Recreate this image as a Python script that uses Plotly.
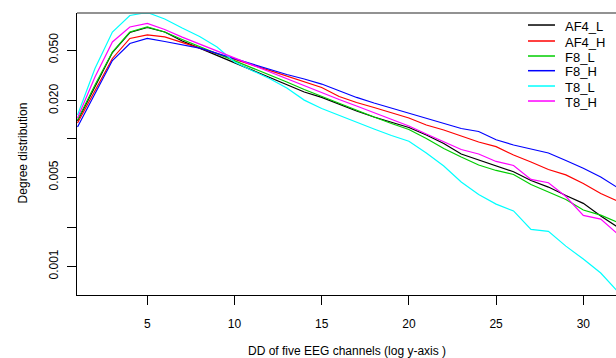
import plotly.graph_objects as go

degree = list(range(1, 33))

AF4_L = [0.01384, 0.0261, 0.0478, 0.0686, 0.0751, 0.0692, 0.0589, 0.0517, 0.0453, 0.0397,
         0.0348, 0.0305, 0.0267, 0.0234, 0.0212, 0.01866, 0.01659, 0.01488, 0.0136, 0.01231,
         0.01075, 0.00922, 0.00762, 0.00684, 0.00619, 0.00553, 0.00472, 0.00419, 0.0036, 0.00312,
         0.00248, 0.00202]
AF4_H = [0.01335, 0.02425, 0.0429, 0.0616, 0.0656, 0.0633, 0.0571, 0.0517, 0.0467, 0.0423,
         0.0382, 0.0346, 0.0312, 0.0283, 0.0254, 0.02156, 0.01935, 0.01767, 0.01614, 0.01462,
         0.01288, 0.01176, 0.01055, 0.00947, 0.0087, 0.00748, 0.0066, 0.00576, 0.00522, 0.00447,
         0.00373, 0.00323]
F8_L = [0.01409, 0.02655, 0.0482, 0.0692, 0.0758, 0.0692, 0.0605, 0.0533, 0.0467, 0.041,
        0.0361, 0.0318, 0.028, 0.0245, 0.02156, 0.019, 0.01673, 0.01488, 0.01323, 0.01187,
        0.01009, 0.00842, 0.00722, 0.00625, 0.00566, 0.00526, 0.00439, 0.00383, 0.00335, 0.00277,
        0.00252, 0.00221]
F8_H = [0.01242, 0.02277, 0.04135, 0.0562, 0.0616, 0.0583, 0.0547, 0.0517, 0.047, 0.0427,
        0.0388, 0.0353, 0.0321, 0.0296, 0.027, 0.0239, 0.0212, 0.01917, 0.01751, 0.016,
        0.01462, 0.01335, 0.01209, 0.01145, 0.00985, 0.00897, 0.00832, 0.00776, 0.00678, 0.00589,
        0.00503, 0.00412]
T8_L = [0.01543, 0.0358, 0.0692, 0.0933, 0.0985, 0.0876, 0.0744, 0.0638, 0.0528, 0.0402,
        0.0345, 0.0299, 0.0251, 0.0202, 0.01736, 0.01529, 0.01347, 0.01198, 0.01065, 0.00959,
        0.00776, 0.00613, 0.00459, 0.00366, 0.00308, 0.00272, 0.00195, 0.00188, 0.00144, 0.00114,
        0.000886, 0.000628]
T8_H = [0.01462, 0.0307, 0.0578, 0.0758, 0.0808, 0.0724, 0.0631, 0.0556, 0.0491, 0.0433,
        0.0381, 0.0336, 0.0296, 0.0261, 0.0232, 0.0204, 0.01816, 0.01614, 0.01435, 0.01264,
        0.01094, 0.0095, 0.00827, 0.00762, 0.00666, 0.00619, 0.00481, 0.00453, 0.00353, 0.00251,
        0.00235, 0.00178]

series_names = ["AF4_L", "AF4_H", "F8_L", "F8_H", "T8_L", "T8_H"]
series_values = [AF4_L, AF4_H, F8_L, F8_H, T8_L, T8_H]
series_colors = ["#000000", "#FF0000", "#00CD00", "#0000FF", "#00FFFF", "#FF00FF"]

x_ticks = [5, 10, 15, 20, 25, 30]
y_tickvals = [0.001, 0.002, 0.005, 0.01, 0.02, 0.05]
y_ticktext = ["0.001", "", "0.005", "", "0.020", "0.050"]

x_title = "DD of five EEG channels (log y-axis )"
y_title = "Degree distribution"

FONT = "Liberation Sans, Arial, sans-serif"

fig = go.Figure()
for name, vals, col in zip(series_names, series_values, series_colors):
    fig.add_trace(go.Scatter(x=degree, y=vals, mode="lines", name=name,
                             line=dict(color=col, width=1.2), showlegend=False,
                             hoverinfo="skip"))

# manual legend (R-style compact legend)
leg_y = [0.9574, 0.9007, 0.8475, 0.7954, 0.7411, 0.6879]
shapes = []
annotations = []
for name, col, yy in zip(series_names, series_colors, leg_y):
    shapes.append(dict(type="line", xref="paper", yref="paper", x0=0.8367, x1=0.8868,
                       y0=yy, y1=yy, line=dict(color=col, width=1.5)))
    annotations.append(dict(xref="paper", yref="paper", x=0.9011, y=yy - 0.004, text=name,
                            showarrow=False, xanchor="left", yanchor="middle",
                            font=dict(family=FONT, size=13, color="#000000")))

# top border of box
shapes.append(dict(type="line", xref="paper", yref="paper", x0=0, x1=1, y0=1, y1=1,
                   line=dict(color="#6e6e6e", width=1.5)))

annotations.append(dict(xref="paper", yref="paper", x=(346.5 - 77) / 539, y=-0.198,
                        text=x_title, showarrow=False, xanchor="center", yanchor="middle",
                        font=dict(family=FONT, size=12, color="#000000")))
annotations.append(dict(xref="paper", yref="paper", x=-0.1011, y=0.504, text=y_title,
                        textangle=-90, showarrow=False, xanchor="center", yanchor="middle",
                        font=dict(family=FONT, size=12, color="#000000")))

fig.update_layout(
    width=616, height=358,
    margin=dict(l=77, r=0, t=13, b=63),
    paper_bgcolor="white", plot_bgcolor="white",
    font=dict(family=FONT, size=12, color="#000000"),
    shapes=shapes, annotations=annotations,
    hovermode=False,
    xaxis=dict(range=[0.97, 31.875], tickmode="array", tickvals=x_ticks,
               ticks="outside", ticklen=9, tickwidth=1, tickcolor="#000000",
               showline=True, linecolor="#000000", linewidth=1,
               showgrid=False, zeroline=False, ticklabelstandoff=9,
               tickfont=dict(family=FONT, size=12, color="#000000")),
    yaxis=dict(type="log", range=[-3.2256, -1.0104], tickmode="array",
               tickvals=y_tickvals, ticktext=y_ticktext, tickangle=-90,
               ticks="outside", ticklen=9, tickwidth=1, tickcolor="#000000",
               showline=True, linecolor="#000000", linewidth=1,
               showgrid=False, zeroline=False, ticklabelstandoff=4,
               tickfont=dict(family=FONT, size=12, color="#000000")),
)

fig.write_html("out.html",
               config={"displayModeBar": False, "staticPlot": True},
               post_script="document.body.style.margin='0';document.body.style.padding='0';"
                           "document.body.style.overflow='hidden';")
